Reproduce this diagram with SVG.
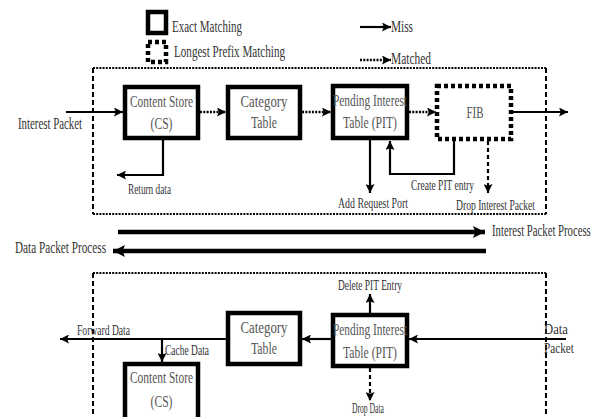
<svg xmlns="http://www.w3.org/2000/svg" width="600" height="417" viewBox="0 0 600 417">
<style>
text{font-family:"Liberation Serif","Times New Roman",serif;fill:#333}
.bx{font-size:17.5px;fill:#555}
.lb{font-size:16px}
.sm{font-size:14px}
.box{fill:#fff;stroke:#000;stroke-width:4.5}
.lpm{fill:#fff;stroke:#000;stroke-width:4.5;stroke-dasharray:4 3}
.cont{fill:none;stroke:#000;stroke-width:2}
.hd{stroke-dasharray:2 1.2}
.vd{stroke-dasharray:5 3}
.ln{fill:none;stroke:#000;stroke-width:2.2}
.dot{fill:none;stroke:#000;stroke-width:2.5;stroke-dasharray:2 1.3}
.dsh{fill:none;stroke:#000;stroke-width:2.2;stroke-dasharray:4 3}
.thk{fill:none;stroke:#000;stroke-width:4.5}
</style>
<defs>
<marker id="ah" viewBox="0 0 10 10" refX="10" refY="5" markerWidth="9" markerHeight="9" markerUnits="userSpaceOnUse" orient="auto"><path d="M0,0 L10,5 L0,10 L2,5 z" fill="#000"/></marker>
<marker id="ahL" viewBox="0 0 10 10" refX="10" refY="5" markerWidth="12" markerHeight="12" markerUnits="userSpaceOnUse" orient="auto"><path d="M0,0 L10,5 L0,10 L2,5 z" fill="#000"/></marker>
</defs>

<g id="legend">
<rect x="148" y="12" width="18" height="21" class="box"/>
<text x="172" y="32" class="lb" textLength="70" lengthAdjust="spacingAndGlyphs">Exact Matching</text>
<rect x="148" y="42" width="18" height="20" class="lpm"/>
<text x="174" y="57" class="lb" textLength="111" lengthAdjust="spacingAndGlyphs">Longest Prefix Matching</text>
<line x1="360" y1="27" x2="391" y2="27" class="ln" marker-end="url(#ah)"/>
<text x="391" y="32" class="lb" textLength="22" lengthAdjust="spacingAndGlyphs">Miss</text>
<line x1="360" y1="60" x2="391" y2="60" class="dot" marker-end="url(#ah)"/>
<text x="391" y="64" class="lb" textLength="40" lengthAdjust="spacingAndGlyphs">Matched</text>
</g>

<g id="containers">
<line x1="93" y1="68" x2="546" y2="68" class="cont hd"/>
<line x1="93" y1="214" x2="546" y2="214" class="cont hd"/>
<line x1="93" y1="68" x2="93" y2="214" class="cont vd"/>
<line x1="546" y1="68" x2="546" y2="214" class="cont vd"/>
<line x1="93" y1="273" x2="546" y2="273" class="cont hd"/>
<line x1="93" y1="273" x2="93" y2="417" class="cont vd"/>
<line x1="546" y1="273" x2="546" y2="417" class="cont vd"/>
</g>

<g id="connectors">
<line x1="66" y1="112" x2="123" y2="112" class="ln" marker-end="url(#ah)"/>
<line x1="200" y1="112" x2="226" y2="112" class="dot" marker-end="url(#ah)"/>
<line x1="302" y1="112" x2="331" y2="112" class="dot" marker-end="url(#ah)"/>
<line x1="409" y1="112" x2="436" y2="112" class="dot" marker-end="url(#ah)"/>
<line x1="513" y1="112" x2="568" y2="112" class="ln" marker-end="url(#ah)"/>
<polyline points="163,139 163,175 117,175" class="ln" marker-end="url(#ah)"/>
<line x1="370" y1="140" x2="370" y2="193" class="ln" marker-end="url(#ah)"/>
<polyline points="454,141 454,174 390,174 390,141" class="ln" marker-end="url(#ah)"/>
<line x1="488" y1="141" x2="488" y2="193" class="dsh" marker-end="url(#ah)"/>
<line x1="118" y1="232" x2="485" y2="232" class="thk" marker-end="url(#ahL)"/>
<line x1="486" y1="251" x2="113" y2="251" class="thk" marker-end="url(#ahL)"/>
<line x1="566" y1="339" x2="409" y2="339" class="ln" marker-end="url(#ah)"/>
<line x1="331" y1="339" x2="302" y2="339" class="ln" marker-end="url(#ah)"/>
<line x1="370" y1="313" x2="370" y2="294" class="ln" marker-end="url(#ah)"/>
<line x1="370" y1="368" x2="370" y2="401" class="dsh" marker-end="url(#ah)"/>
<line x1="226" y1="339" x2="60" y2="339" class="ln" marker-end="url(#ah)"/>
<line x1="162" y1="339" x2="162" y2="362" class="ln" marker-end="url(#ah)"/>
</g>

<g id="cs-top">
<rect x="125" y="87" width="73" height="51" class="box"/>
<text x="161.5" y="107" class="bx" text-anchor="middle" textLength="63" lengthAdjust="spacingAndGlyphs">Content Store</text>
<text x="161.5" y="129" class="bx" text-anchor="middle" textLength="22" lengthAdjust="spacingAndGlyphs">(CS)</text>
</g>
<g id="category-top">
<rect x="228" y="87" width="72" height="51" class="box"/>
<text x="264" y="107" class="bx" text-anchor="middle" textLength="47" lengthAdjust="spacingAndGlyphs">Category</text>
<text x="264" y="128" class="bx" text-anchor="middle" textLength="26" lengthAdjust="spacingAndGlyphs">Table</text>
</g>
<g id="pit-top">
<rect x="333" y="86" width="74" height="52" class="box"/>
<text x="370" y="106" class="bx" text-anchor="middle" textLength="74" lengthAdjust="spacingAndGlyphs">Pending Interest</text>
<text x="370" y="128" class="bx" text-anchor="middle" textLength="54" lengthAdjust="spacingAndGlyphs">Table (PIT)</text>
</g>
<g id="fib">
<rect x="437" y="86" width="74" height="53" class="lpm"/>
<text x="475" y="118" class="bx" text-anchor="middle" textLength="17" lengthAdjust="spacingAndGlyphs">FIB</text>
</g>

<g id="labels-top">
<text x="18" y="129" class="lb" textLength="64" lengthAdjust="spacingAndGlyphs">Interest Packet</text>
<text x="128" y="194" class="sm" textLength="43" lengthAdjust="spacingAndGlyphs">Return data</text>
<text x="338" y="208" class="sm" textLength="70" lengthAdjust="spacingAndGlyphs">Add Request Port</text>
<text x="411" y="190" class="sm" textLength="63" lengthAdjust="spacingAndGlyphs">Create PIT entry</text>
<text x="456" y="210" class="sm" textLength="79" lengthAdjust="spacingAndGlyphs">Drop Interest Packet</text>
<text transform="translate(492,236) scale(0.67,1)" class="lb">Interest Packet Process</text>
<text x="15" y="253" class="lb" textLength="91" lengthAdjust="spacingAndGlyphs">Data Packet Process</text>
</g>

<g id="pit-bottom">
<rect x="333" y="315" width="74" height="51" class="box"/>
<text x="370" y="335" class="bx" text-anchor="middle" textLength="74" lengthAdjust="spacingAndGlyphs">Pending Interest</text>
<text x="370" y="358" class="bx" text-anchor="middle" textLength="54" lengthAdjust="spacingAndGlyphs">Table (PIT)</text>
</g>
<g id="category-bottom">
<rect x="228" y="313" width="72" height="51" class="box"/>
<text x="264" y="333" class="bx" text-anchor="middle" textLength="47" lengthAdjust="spacingAndGlyphs">Category</text>
<text x="264" y="354" class="bx" text-anchor="middle" textLength="26" lengthAdjust="spacingAndGlyphs">Table</text>
</g>
<g id="cs-bottom">
<rect x="125" y="364" width="73" height="60" class="box"/>
<text x="161.5" y="383" class="bx" text-anchor="middle" textLength="63" lengthAdjust="spacingAndGlyphs">Content Store</text>
<text x="161.5" y="407" class="bx" text-anchor="middle" textLength="22" lengthAdjust="spacingAndGlyphs">(CS)</text>
</g>

<g id="labels-bottom">
<text x="338" y="290" class="sm" textLength="64" lengthAdjust="spacingAndGlyphs">Delete PIT Entry</text>
<text x="352" y="413" class="sm" textLength="32" lengthAdjust="spacingAndGlyphs">Drop Data</text>
<text x="544" y="334" class="sm" textLength="24" lengthAdjust="spacingAndGlyphs">Data</text>
<text x="544" y="353" class="sm" textLength="30" lengthAdjust="spacingAndGlyphs">Packet</text>
<text x="77" y="335" class="sm" textLength="53" lengthAdjust="spacingAndGlyphs">Forward Data</text>
<text x="165" y="355" class="sm" textLength="44" lengthAdjust="spacingAndGlyphs">Cache Data</text>
</g>
</svg>
